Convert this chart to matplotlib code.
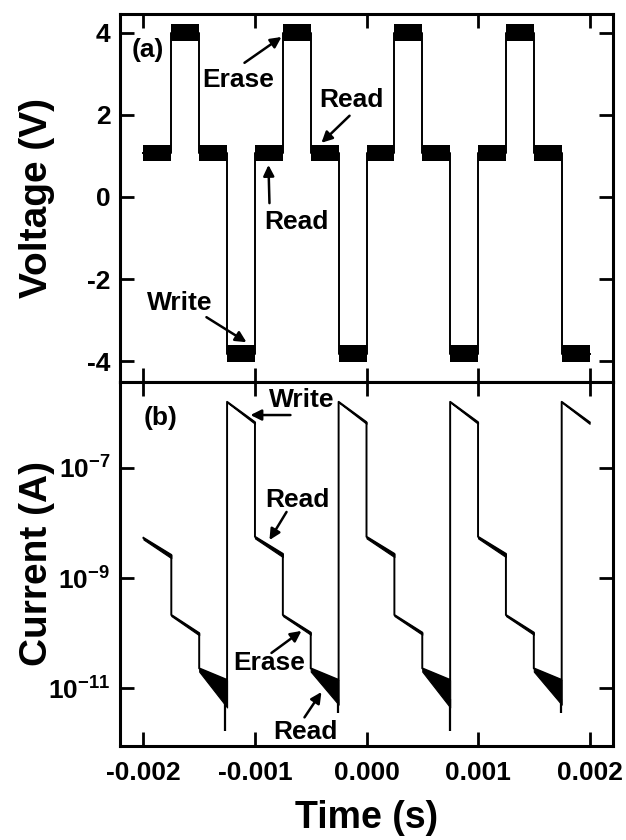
import matplotlib
matplotlib.use("Agg")
import matplotlib.pyplot as plt
from matplotlib.ticker import FixedLocator, NullLocator, FuncFormatter
import numpy as np

plt.rcParams.update({
    "font.family": ["Liberation Sans", "DejaVu Sans"],
    "font.weight": "bold",
    "axes.unicode_minus": False,
    "mathtext.fontset": "custom",
    "mathtext.rm": "Liberation Sans:bold",
    "mathtext.bf": "Liberation Sans:bold",
    "mathtext.it": "Liberation Sans:bold:italic",
    "mathtext.default": "rm",
})

# ---------------- data ----------------
seg_start = -0.002          # s, start of first segment
seg_len = 0.00025           # s, length of each pulse segment
# sequence of pulses: R = read, E = erase, W = write
pulse_seq = ["R", "E", "R", "W", "R", "E", "R", "W",
             "R", "E", "R", "W", "R", "E", "R", "W"]
# voltage level (V) and noise half-width of each pulse type
volt_level = {"R": 1.07, "E": 4.0, "W": -3.82}
volt_noise = {"R": 0.19, "E": 0.21, "W": 0.21}

# current (log10 A) at start / end of each segment
cur_log_start = [-8.27, -9.67, -10.64, -5.80,
                 -8.25, -9.67, -10.64, -5.80,
                 -8.25, -9.67, -10.64, -5.80,
                 -8.25, -9.67, -10.64, -5.80]
cur_log_end = [-8.58, -10.00, -10.85, -6.17,
               -8.56, -9.99, -10.85, -6.17,
               -8.56, -9.99, -10.85, -6.17,
               -8.56, -9.99, -10.85, -6.17]
# lower edge of the noise band (log10 A) at start / end of each segment
cur_noise_start = [-8.30, -9.69, -10.70, -5.81,
                   -8.28, -9.69, -10.70, -5.81,
                   -8.28, -9.69, -10.70, -5.81,
                   -8.28, -9.69, -10.70, -5.81]
cur_noise_end = [-8.64, -10.04, -11.35, -6.20,
                 -8.62, -10.03, -11.30, -6.20,
                 -8.62, -10.03, -11.35, -6.20,
                 -8.62, -10.03, -11.30, -6.20]
# isolated downward noise spikes in the high-resistance read
spike_t = [-0.001265, -0.000255, 0.000745, 0.001745]
spike_log = [-11.78, -11.45, -11.78, -11.45]

x_ticks = [-0.002, -0.001, 0.0, 0.001, 0.002]
x_tick_labels = ["-0.002", "-0.001", "0.000", "0.001", "0.002"]
v_ticks = [-4, -2, 0, 2, 4]
i_ticks = [1e-11, 1e-9, 1e-7]

# ---------------- figure ----------------
fig = plt.figure(figsize=(6.26, 8.4), dpi=100)
L, W = 120 / 626, 493 / 626
ax1 = fig.add_axes([L, 1 - 382 / 840, W, 368 / 840])
ax2 = fig.add_axes([L, 1 - 746 / 840, W, 364 / 840], sharex=ax1)

lw = 1.4
# voltage trace
tv, vv = [], []
for i, p in enumerate(pulse_seq):
    t0 = seg_start + i * seg_len
    t1 = t0 + seg_len
    tv += [t0, t1]
    vv += [volt_level[p], volt_level[p]]
    ax1.fill_between([t0, t1],
                     [volt_level[p] - volt_noise[p]] * 2,
                     [volt_level[p] + volt_noise[p]] * 2,
                     color="black", lw=0)
ax1.plot(tv, vv, color="black", lw=lw)

# current trace
ti, ii = [], []
for i in range(len(pulse_seq)):
    t0 = seg_start + i * seg_len
    t1 = t0 + seg_len
    ti += [t0, t1]
    ii += [10 ** cur_log_start[i], 10 ** cur_log_end[i]]
    ax2.fill_between([t0, t1],
                     [10 ** cur_noise_start[i], 10 ** cur_noise_end[i]],
                     [10 ** cur_log_start[i], 10 ** cur_log_end[i]],
                     color="black", lw=0.8)
ax2.plot(ti, ii, color="black", lw=lw)
for t, s in zip(spike_t, spike_log):
    ax2.vlines(t, 10 ** s, 10 ** -11.2, color="black", lw=1.6)
ax2.set_yscale("log")

# axes styling
for ax in (ax1, ax2):
    for sp in ax.spines.values():
        sp.set_linewidth(2.2)
    ax.tick_params(which="both", direction="in", length=10, width=2,
                   top=True, right=True, labelsize=19, pad=7)
    ax.set_xlim(-0.00221, 0.00221)
ax1.set_xticks(x_ticks)
ax1.tick_params(labelbottom=False)
ax2.set_xticks(x_ticks)
ax2.set_xticklabels(x_tick_labels)
ax2.tick_params(axis="x", pad=11)

ax1.set_ylim(-4.51, 4.46)
ax1.set_yticks(v_ticks)
ax2.set_ylim(10 ** -12.05, 10 ** -5.44)
ax2.yaxis.set_major_locator(FixedLocator(i_ticks))
ax2.yaxis.set_minor_locator(NullLocator())
ax2.yaxis.set_major_formatter(
    FuncFormatter(lambda v, p: r"$10^{%d}$" % int(round(np.log10(v)))))

ax1.set_ylabel("Voltage (V)", fontsize=28, fontweight="bold")
ax2.set_ylabel("Current (A)", fontsize=28, fontweight="bold")
ax1.yaxis.set_label_coords(-0.132, 0.5)
ax2.yaxis.set_label_coords(-0.132, 0.5)
ax2.set_xlabel("Time (s)", fontsize=27, fontweight="bold")
ax2.xaxis.set_label_coords(0.5, -0.148)

# annotations
fs = 19
ap = dict(arrowstyle="-|>", color="black", lw=1.8, mutation_scale=16,
          shrinkA=0, shrinkB=0)
ax1.text(-0.002108, 3.59, "(a)", fontsize=fs, ha="left", va="center")
ax1.text(-0.001148, 2.85, "Erase", fontsize=fs, ha="center", va="center")
ax1.annotate("", xy=(-0.000762, 3.90), xytext=(-0.001094, 3.27), arrowprops=ap)
ax1.text(-0.000135, 2.37, "Read", fontsize=fs, ha="center", va="center")
ax1.annotate("", xy=(-0.000404, 1.32), xytext=(-0.000152, 1.98), arrowprops=ap)
ax1.text(-0.000628, -0.61, "Read", fontsize=fs, ha="center", va="center")
ax1.annotate("", xy=(-0.000879, 0.78), xytext=(-0.000870, -0.15), arrowprops=ap)
ax1.text(-0.001677, -2.59, "Write", fontsize=fs, ha="center", va="center")
ax1.annotate("", xy=(-0.001076, -3.54), xytext=(-0.001435, -2.93), arrowprops=ap)

ax2.text(-0.002000, 10 ** -6.09, "(b)", fontsize=fs, ha="left", va="center")
ax2.text(-0.000583, 10 ** -5.76, "Write", fontsize=fs, ha="center", va="center")
ax2.annotate("", xy=(-0.001040, 10 ** -6.04), xytext=(-0.000682, 10 ** -6.04), arrowprops=ap)
ax2.text(-0.000619, 10 ** -7.58, "Read", fontsize=fs, ha="center", va="center")
ax2.annotate("", xy=(-0.000870, 10 ** -8.31), xytext=(-0.000717, 10 ** -7.80), arrowprops=ap)
ax2.text(-0.000870, 10 ** -10.55, "Erase", fontsize=fs, ha="center", va="center")
ax2.annotate("", xy=(-0.000583, 10 ** -9.96), xytext=(-0.000852, 10 ** -10.36), arrowprops=ap)
ax2.text(-0.000547, 10 ** -11.80, "Read", fontsize=fs, ha="center", va="center")
ax2.annotate("", xy=(-0.000404, 10 ** -11.07), xytext=(-0.000556, 10 ** -11.53), arrowprops=ap)

fig.savefig("out.png", dpi=100)
